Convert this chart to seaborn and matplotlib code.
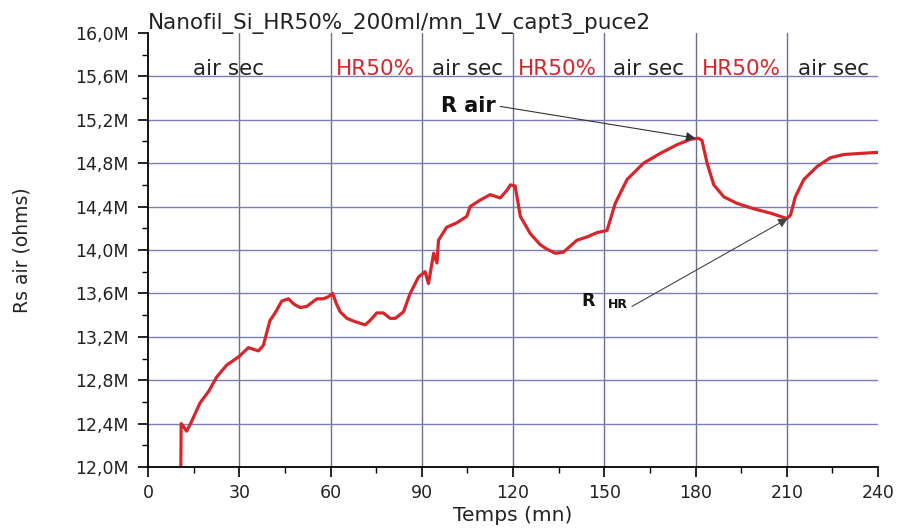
import numpy as np
import pandas as pd
import matplotlib
matplotlib.use("Agg")
import matplotlib.pyplot as plt
import seaborn as sns
from matplotlib.ticker import MultipleLocator, FuncFormatter

# temps (mn) et resistance (Mohms)
temps = [10.8, 10.9, 11.5, 12.7, 14, 17.1, 20, 22.6, 25.9, 28, 30, 33, 36.3, 37.9,
         40.1, 41.8, 44, 46.2, 48, 50, 52.2, 55.5, 57.7, 59.3, 60.7, 62, 63.2, 65.4,
         68, 71.4, 73, 75.2, 77.4, 79.6, 81.3, 84, 86.2, 88.9, 91.1, 92.2, 93.9, 95,
         95.5, 98.2, 101.5, 104.8, 105.9, 109.2, 112.5, 115.8, 118, 119.1, 120.7,
         122.4, 125.7, 128.9, 131, 133.9, 136.6, 141, 144.3, 147.6, 150.9, 153.6,
         157.5, 162.9, 168.4, 173.9, 178.3, 181, 182.1, 183.8, 186, 189.3, 193.6,
         199.1, 204.6, 210, 211.2, 212.8, 215.6, 220, 224.3, 228.7, 234.2, 240]
rs_air = [12.0, 12.40, 12.38, 12.33, 12.40, 12.59, 12.70, 12.83, 12.94, 12.98, 13.02,
          13.10, 13.07, 13.12, 13.35, 13.42, 13.53, 13.55, 13.50, 13.47, 13.48, 13.55,
          13.55, 13.57, 13.60, 13.50, 13.43, 13.37, 13.34, 13.31, 13.35, 13.42, 13.42,
          13.37, 13.37, 13.43, 13.60, 13.75, 13.80, 13.69, 13.97, 13.88, 14.09, 14.21,
          14.25, 14.31, 14.40, 14.46, 14.51, 14.48, 14.55, 14.60, 14.59, 14.31, 14.15,
          14.05, 14.01, 13.97, 13.98, 14.09, 14.12, 14.16, 14.18, 14.43, 14.65, 14.80,
          14.89, 14.97, 15.02, 15.03, 15.01, 14.80, 14.60, 14.49, 14.43, 14.38, 14.34,
          14.29, 14.32, 14.49, 14.65, 14.77, 14.85, 14.88, 14.89, 14.90]

phases = ["air sec", "HR50%", "air sec", "HR50%", "air sec", "HR50%", "air sec"]
phase_pos = [26.6, 74.7, 104.9, 134.5, 164.5, 195.0, 225.3]

titre = "Nanofil_Si_HR50%_200ml/mn_1V_capt3_puce2"

df = pd.DataFrame({"Temps": temps, "Rs": rs_air})

sns.set_theme(style="white")
plt.rcParams["font.family"] = ["DejaVu Sans"]

fig = plt.figure(figsize=(8.98, 5.31), dpi=100)
ax = fig.add_axes([0.1648, 0.1205, 0.813, 0.8174])

# grille
for x in range(30, 240, 30):
    ax.axvline(x, color="#6c6c96", lw=1.0, zorder=0)
for y in np.arange(12.4, 15.7, 0.4):
    ax.axhline(y, color="#7c7cb8", lw=1.0, zorder=0)

sns.lineplot(data=df, x="Temps", y="Rs", ax=ax, color="#d7262b", lw=2.3,
             estimator=None, sort=False)

ax.set_xlim(0, 240)
ax.set_ylim(12.0, 16.0)
ax.xaxis.set_major_locator(MultipleLocator(30))
ax.xaxis.set_minor_locator(MultipleLocator(15))
ax.yaxis.set_major_locator(MultipleLocator(0.4))
ax.yaxis.set_minor_locator(MultipleLocator(0.2))
ax.yaxis.set_major_formatter(FuncFormatter(lambda v, p: f"{v:.1f}M".replace(".", ",")))
ax.tick_params(which="both", direction="out", color="black", labelsize=12.5,
               labelcolor="#222222", bottom=True, left=True)
ax.tick_params(which="major", length=7, width=1.2)
ax.tick_params(axis="y", which="major", pad=7)
ax.tick_params(axis="x", which="major", pad=5)
ax.tick_params(which="minor", length=4, width=1.0)

for s in ["top", "right"]:
    ax.spines[s].set_visible(False)
for s in ["left", "bottom"]:
    ax.spines[s].set_color("black")
    ax.spines[s].set_linewidth(1.3)

ax.set_xlabel("Temps (mn)", fontsize=14.5, color="#222222", labelpad=3)
ax.set_ylabel("Rs air (ohms)", fontsize=13.5, color="#222222")
ax.yaxis.set_label_coords(-0.159, 0.5)
ax.text(0, 1.009, titre, transform=ax.transAxes, ha="left", va="baseline",
        fontsize=15.5, color="#222222")

# phases
for lab, xp in zip(phases, phase_pos):
    col = "#d7262b" if lab.startswith("HR") else "#222222"
    ax.text(xp, 15.61, lab, ha="center", va="baseline", fontsize=15.5, color=col)

# annotations
ax.annotate("R air", xy=(180.0, 15.03), xytext=(114.3, 15.33), ha="right", va="center",
            fontsize=15, fontweight="bold", color="#111111",
            arrowprops=dict(arrowstyle="-|>", color="#333333", lw=0.8,
                            shrinkA=1, shrinkB=0, relpos=(1, 0.5),
                            mutation_scale=14))
ax.text(144.7, 13.53, "R", ha="center", va="center", fontsize=12.5,
        fontweight="bold", color="#111111")
ax.text(154.6, 13.50, "HR", ha="center", va="center", fontsize=9,
        fontweight="bold", color="#111111")
ax.annotate("", xy=(210.3, 14.29), xytext=(159.1, 13.48),
            arrowprops=dict(arrowstyle="-|>", color="#444444", lw=0.8,
                            shrinkA=0, shrinkB=0, mutation_scale=14))

fig.savefig("out.png", dpi=100)
